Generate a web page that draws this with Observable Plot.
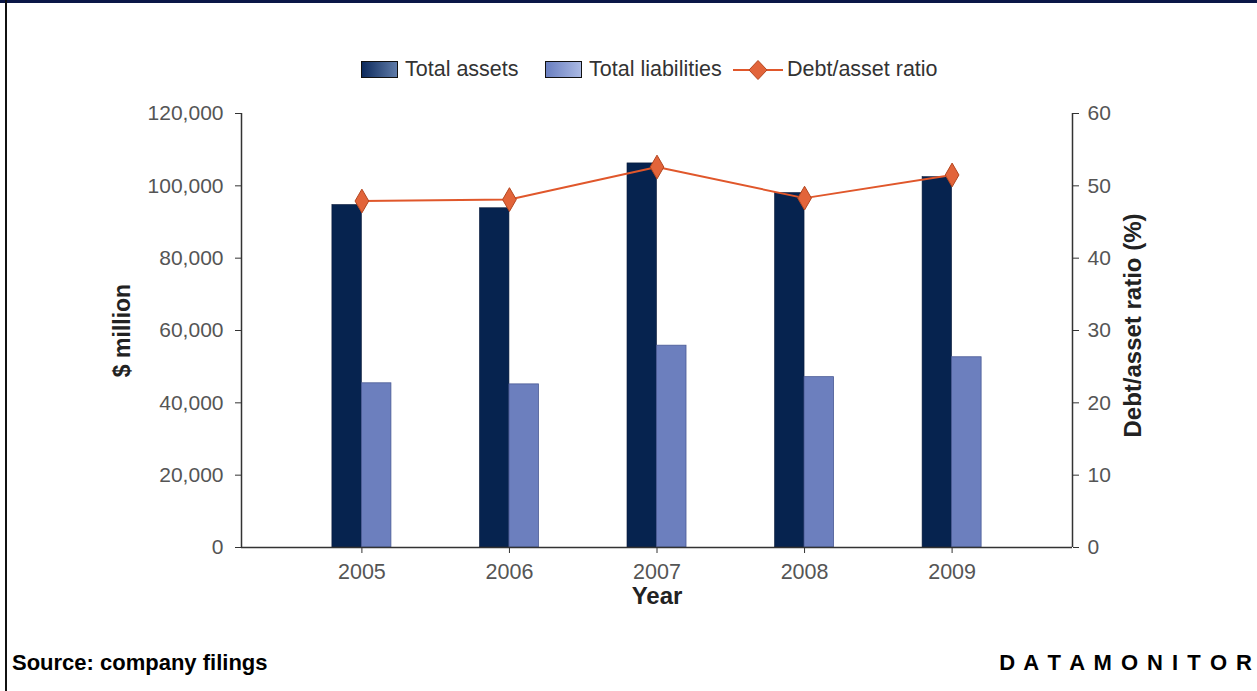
<!DOCTYPE html>
<html>
<head>
<meta charset="utf-8">
<script src="https://cdn.jsdelivr.net/npm/d3@7"></script>
<script src="https://cdn.jsdelivr.net/npm/@observablehq/plot@0.6"></script>
<style>
  html, body { margin: 0; padding: 0; background: #fff; }
  #page { position: relative; width: 1257px; height: 691px; overflow: hidden; font-family: "Liberation Sans", Arial, sans-serif; background: #fff; }
  #topbar { position: absolute; left: 0; top: 0; width: 1257px; height: 3px; background: #0b1747; }
  #leftbar { position: absolute; left: 5px; top: 0; width: 2px; height: 691px; background: #111; }
  .lg { position: absolute; font-size: 21.5px; line-height: 22px; color: #333; white-space: nowrap; }
  .sw { position: absolute; width: 35px; height: 15px; border: 1px solid #111; top: 61px; }
  #chart { position: absolute; left: 0; top: 95px; }
  .foot { position: absolute; top: 650px; font-size: 22px; line-height: 25px; font-weight: bold; color: #000; white-space: nowrap; }
</style>
</head>
<body>
<div id="page">
  <div id="topbar"></div>
  <div id="leftbar"></div>
  <div id="legend"></div>
  <div id="chart"></div>
  <div class="foot" id="source" style="left:12px;"></div>
  <div class="foot" id="brand" style="right:5px; word-spacing:3px;"></div>
</div>
<script>
// ---- data ----
const years = [2005, 2006, 2007, 2008, 2009];
const totalAssets = [94700, 93800, 106200, 98000, 102400];
const totalLiabilities = [45400, 45100, 55800, 47100, 52600];
const debtAssetRatio = [47.9, 48.1, 52.6, 48.3, 51.5];
const leftTicks = [0, 20000, 40000, 60000, 80000, 100000, 120000];
const rightTicks = [0, 10, 20, 30, 40, 50, 60];
const seriesNames = ["Total assets", "Total liabilities", "Debt/asset ratio"];
const yLabelLeft = "$ million";
const yLabelRight = "Debt/asset ratio (%)";
const xLabel = "Year";
const sourceText = "Source: company filings";
const brandText = "D A T A M O N I T O R";

// ---- styles ----
const assetsColor = "#06234f";
const liabColor = "#6c7fbe";
const lineColor = "#e0572b";
const ratioFactor = 120000 / 60; // right axis 0-60 maps onto left 0-120,000
const half = 0.2; // bar width in year units

const rows = years.map((y, i) => ({
  year: y, assets: totalAssets[i], liab: totalLiabilities[i], ratio: debtAssetRatio[i]
}));

const xDomain = [2004.184, 2009.816];

const chart = Plot.plot({
  width: 1257,
  height: 530,
  marginLeft: 241,
  marginRight: 185,
  marginTop: 18,
  marginBottom: 78,
  style: { fontFamily: "Liberation Sans, Arial, sans-serif", fontSize: "21px", color: "#333", background: "transparent" },
  x: { domain: xDomain, label: null },
  y: { domain: [0, 120000], label: null },
  marks: [
    Plot.rectY(rows, { x1: d => d.year - half, x2: d => d.year, y: "assets", fill: assetsColor, stroke: "#0a1a3a", strokeWidth: 0.6 }),
    Plot.rectY(rows, { x1: d => d.year, x2: d => d.year + half, y: "liab", fill: liabColor, stroke: "#4a5a95", strokeWidth: 0.8 }),
    Plot.ruleY([0], { stroke: "#333", strokeWidth: 1.5 }),
    Plot.ruleX([xDomain[0]], { stroke: "#333", strokeWidth: 1.5 }),
    Plot.ruleX([xDomain[1]], { stroke: "#333", strokeWidth: 1.5 }),
    Plot.line(rows, { x: "year", y: d => d.ratio * ratioFactor, stroke: lineColor, strokeWidth: 2 }),
    Plot.dot(rows, { x: "year", y: d => d.ratio * ratioFactor, symbol: "diamond", r: 7.2, fill: "#e2643a", stroke: "#b4461f", strokeWidth: 1 }),
    Plot.axisY({ anchor: "left", ticks: leftTicks, tickFormat: d3.format(","), tickSize: 6, tickPadding: 12, fill: "#555", stroke: "#333", label: null }),
    Plot.axisY({ anchor: "right", ticks: rightTicks.map(t => t * ratioFactor), tickFormat: d => String(d / ratioFactor), tickSize: 6, tickPadding: 9, fill: "#555", stroke: "#333", label: null }),
    Plot.axisX({ anchor: "bottom", ticks: years, tickFormat: d => String(d), tickSize: 6, tickPadding: 10, fill: "#555", stroke: "#333", label: null, fontSize: 21.5 }),
    Plot.text([yLabelLeft], { text: d => d, frameAnchor: "left", textAnchor: "middle", lineAnchor: "middle", dx: -119, rotate: -90, fontWeight: "bold", fontSize: 23, fill: "#222" }),
    Plot.text([yLabelRight], { text: d => d, frameAnchor: "right", textAnchor: "middle", lineAnchor: "middle", dx: 61, dy: -5, rotate: -90, fontWeight: "bold", fontSize: 24, fill: "#222" }),
    Plot.text([xLabel], { text: d => d, frameAnchor: "bottom", textAnchor: "middle", lineAnchor: "middle", dy: 49, fontWeight: "bold", fontSize: 24, fill: "#222" })
  ]
});
document.getElementById("chart").appendChild(chart);

// ---- legend ----
const legend = document.getElementById("legend");
legend.innerHTML =
  `<div class="sw" style="left:361px;background:linear-gradient(90deg,#0d2a5c,#5f7ba8)"></div>` +
  `<div class="lg" style="left:405px;top:58px">${seriesNames[0]}</div>` +
  `<div class="sw" style="left:545px;background:linear-gradient(90deg,#6a7fc0,#aab9e3)"></div>` +
  `<div class="lg" style="left:589px;top:58px">${seriesNames[1]}</div>` +
  `<svg style="position:absolute;left:732px;top:59px" width="52" height="22"><line x1="1" x2="51" y1="11" y2="11" stroke="${lineColor}" stroke-width="2"/><path d="M26,1.5 L35,11 L26,20.5 L17,11 Z" fill="#e2643a" stroke="#b4461f"/></svg>` +
  `<div class="lg" style="left:787px;top:58px">${seriesNames[2]}</div>`;

document.getElementById("source").textContent = sourceText;
document.getElementById("brand").textContent = brandText;
</script>
</body>
</html>
